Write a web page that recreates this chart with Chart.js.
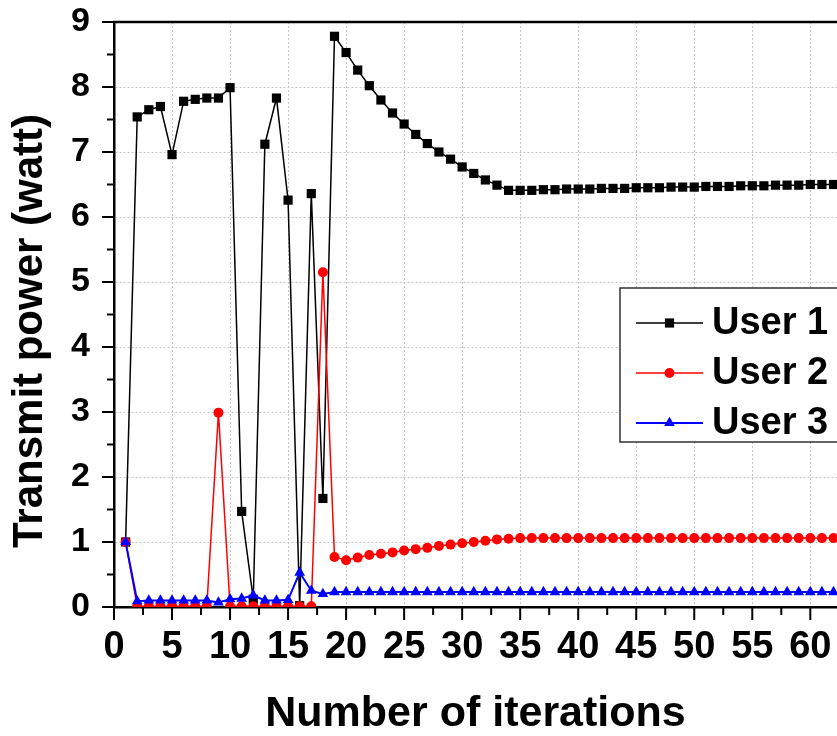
<!DOCTYPE html>
<html>
<head>
<meta charset="utf-8">
<script src="https://cdn.jsdelivr.net/npm/chart.js"></script>
<style>
  html, body { margin: 0; padding: 0; background: #fff; overflow: hidden; }
  #wrap { width: 837px; height: 736px; position: relative; }
  canvas { display: block; }
</style>
</head>
<body>
<div id="wrap"><canvas id="powerChart"></canvas></div>
<script>
// valori
const iterations = [1, 2, 3, 4, 5, 6, 7, 8, 9, 10, 11, 12, 13, 14, 15, 16, 17, 18, 19, 20,
  21, 22, 23, 24, 25, 26, 27, 28, 29, 30, 31, 32, 33, 34, 35, 36, 37, 38, 39, 40,
  41, 42, 43, 44, 45, 46, 47, 48, 49, 50, 51, 52, 53, 54, 55, 56, 57, 58, 59, 60, 61, 62];

const user1 = [1.00, 7.54, 7.65, 7.70, 6.96, 7.78, 7.81, 7.83, 7.83, 7.99,
  1.47, 0.12, 7.12, 7.83, 6.26, 0.02, 6.36, 1.67, 8.78, 8.53,
  8.26, 8.02, 7.80, 7.60, 7.43, 7.27, 7.13, 7.00, 6.89, 6.77,
  6.67, 6.57, 6.49, 6.41, 6.41, 6.41, 6.42, 6.42, 6.43, 6.43,
  6.43, 6.44, 6.44, 6.44, 6.45, 6.45, 6.45, 6.46, 6.46, 6.46,
  6.47, 6.47, 6.47, 6.48, 6.48, 6.48, 6.49, 6.49, 6.49, 6.50, 6.50, 6.50];

const user2 = [1.00, 0.01, 0.01, 0.01, 0.01, 0.01, 0.01, 0.01, 2.99, 0.01,
  0.01, 0.01, 0.01, 0.01, 0.01, 0.01, 0.01, 5.15, 0.77, 0.72,
  0.76, 0.80, 0.82, 0.84, 0.87, 0.89, 0.91, 0.94, 0.96, 0.98,
  1.00, 1.02, 1.04, 1.05, 1.06, 1.06, 1.06, 1.06, 1.06, 1.06,
  1.06, 1.06, 1.06, 1.06, 1.06, 1.06, 1.06, 1.06, 1.06, 1.06,
  1.06, 1.06, 1.06, 1.06, 1.06, 1.06, 1.06, 1.06, 1.06, 1.06, 1.06, 1.06];

const user3 = [1.00, 0.09, 0.10, 0.10, 0.10, 0.10, 0.10, 0.10, 0.07, 0.12,
  0.13, 0.18, 0.10, 0.10, 0.11, 0.53, 0.25, 0.20, 0.23, 0.23,
  0.23, 0.23, 0.23, 0.23, 0.23, 0.23, 0.23, 0.23, 0.23, 0.23,
  0.23, 0.23, 0.23, 0.23, 0.23, 0.23, 0.23, 0.23, 0.23, 0.23,
  0.23, 0.23, 0.23, 0.23, 0.23, 0.23, 0.23, 0.23, 0.23, 0.23,
  0.23, 0.23, 0.23, 0.23, 0.23, 0.23, 0.23, 0.23, 0.23, 0.23, 0.23, 0.23];

const seriesNames = ['User 1', 'User 2', 'User 3'];
const xTicks = [0, 5, 10, 15, 20, 25, 30, 35, 40, 45, 50, 55, 60];
const yTicks = [0, 1, 2, 3, 4, 5, 6, 7, 8, 9];

const FONT = '"Liberation Sans", Arial, sans-serif';

function puncte(vals) {
  return iterations.map((x, i) => ({ x: x, y: vals[i] }));
}

// marker simplu pentru legenda
function marker(ctx, style, r, x, y) {
  ctx.beginPath();
  if (style === 'rect') {
    const s = r * Math.SQRT1_2;
    ctx.rect(x - s, y - s, 2 * s, 2 * s);
  } else if (style === 'triangle') {
    ctx.moveTo(x, y - r);
    ctx.lineTo(x + r * 0.866, y + r * 0.5);
    ctx.lineTo(x - r * 0.866, y + r * 0.5);
    ctx.closePath();
  } else {
    ctx.arc(x, y, r, 0, Math.PI * 2);
  }
  ctx.fill();
}

const decor = {
  id: 'decor',
  afterDraw(chart) {
    const { ctx, chartArea: a, scales } = chart;
    const xs = scales.x, ys = scales.y;
    ctx.save();
    ctx.strokeStyle = '#000';
    ctx.lineWidth = 2;

    // tick-uri pe axa Y (majore + minore)
    yTicks.forEach((v, i) => {
      const py = ys.getPixelForValue(v);
      ctx.beginPath();
      ctx.moveTo(a.left - 12, py);
      ctx.lineTo(a.left, py);
      ctx.stroke();
      if (i < yTicks.length - 1) {
        const pm = ys.getPixelForValue((v + yTicks[i + 1]) / 2);
        ctx.beginPath();
        ctx.moveTo(a.left - 7, pm);
        ctx.lineTo(a.left, pm);
        ctx.stroke();
      }
    });

    // tick-uri pe axa X
    xTicks.forEach((v) => {
      const px = xs.getPixelForValue(v);
      ctx.beginPath();
      ctx.moveTo(px, a.bottom);
      ctx.lineTo(px, a.bottom + 13);
      ctx.stroke();
      const mid = v + 2.5;
      if (mid < xs.max) {
        const pm = xs.getPixelForValue(mid);
        ctx.beginPath();
        ctx.moveTo(pm, a.bottom);
        ctx.lineTo(pm, a.bottom + 8);
        ctx.stroke();
      }
    });

    // linia de sus
    ctx.lineWidth = 2.5;
    ctx.beginPath();
    ctx.moveTo(a.left - 1, a.top);
    ctx.lineTo(a.right, a.top);
    ctx.stroke();

    // titlul axei Y
    ctx.save();
    ctx.translate(30, 331);
    ctx.rotate(-Math.PI / 2);
    ctx.fillStyle = '#000';
    ctx.font = 'bold 42px ' + FONT;
    ctx.textAlign = 'center';
    ctx.textBaseline = 'middle';
    ctx.fillText('Transmit power (watt)', 0, 0);
    ctx.restore();

    // legenda in interiorul graficului
    const bx = 620, by = 288, bh = 154;
    ctx.fillStyle = '#fff';
    ctx.fillRect(bx, by, chart.width - bx + 5, bh);
    ctx.strokeStyle = '#333';
    ctx.lineWidth = 1.5;
    ctx.strokeRect(bx, by, chart.width - bx + 5, bh);

    chart.data.datasets.forEach((ds, i) => {
      const ly = 323 + i * 50;
      ctx.strokeStyle = ds.borderColor;
      ctx.lineWidth = ds.borderWidth;
      ctx.beginPath();
      ctx.moveTo(636, ly);
      ctx.lineTo(703, ly);
      ctx.stroke();
      ctx.fillStyle = ds.pointBackgroundColor;
      marker(ctx, ds.pointStyle, ds.pointRadius, 669.5, ly);
      ctx.fillStyle = '#000';
      ctx.font = 'bold 38px ' + FONT;
      ctx.textAlign = 'left';
      ctx.textBaseline = 'middle';
      ctx.fillText(ds.label, 712, ly + 1);
    });
    ctx.restore();
  }
};

const ctx = document.getElementById('powerChart');
new Chart(ctx.getContext('2d'), {
  type: 'line',
  data: {
    datasets: [{
      label: seriesNames[0],
      data: puncte(user1),
      borderColor: '#000',
      backgroundColor: '#000',
      pointBackgroundColor: '#000',
      pointBorderColor: '#000',
      borderWidth: 1.5,
      pointStyle: 'rect',
      pointRadius: 6.5,
      pointBorderWidth: 0,
      tension: 0,
      clip: 0,
      order: 3
    }, {
      label: seriesNames[1],
      data: puncte(user2),
      borderColor: '#ff0000',
      backgroundColor: '#ff0000',
      pointBackgroundColor: '#ff0000',
      pointBorderColor: '#ff0000',
      borderWidth: 1.5,
      pointStyle: 'circle',
      pointRadius: 5,
      pointBorderWidth: 0,
      tension: 0,
      clip: 0,
      order: 2
    }, {
      label: seriesNames[2],
      data: puncte(user3),
      borderColor: '#0000ff',
      backgroundColor: '#0000ff',
      pointBackgroundColor: '#0000ff',
      pointBorderColor: '#0000ff',
      borderWidth: 2,
      pointStyle: 'triangle',
      pointRadius: 6.2,
      pointBorderWidth: 0,
      tension: 0,
      clip: 0,
      order: 1
    }]
  },
  options: {
    responsive: true,
    maintainAspectRatio: false,
    animation: false,
    layout: { autoPadding: false, padding: { top: 22, right: 0, bottom: 0, left: 0 } },
    plugins: {
      legend: { display: false },
      tooltip: { enabled: false }
    },
    scales: {
      x: {
        type: 'linear',
        min: 0,
        max: 62.3,
        afterBuildTicks: s => { s.ticks = xTicks.map(v => ({ value: v })); },
        afterFit: s => { s.height = 129; s.paddingLeft = 0; s.paddingRight = 0; },
        ticks: {
          color: '#000',
          padding: 18,
          maxRotation: 0,
          autoSkip: false,
          font: { family: FONT, size: 38, weight: 'bold' }
        },
        grid: { color: '#c4c4c4', lineWidth: 1, drawTicks: false },
        border: { display: true, color: '#000', width: 2.5, dash: [2, 2] },
        title: {
          display: true,
          text: 'Number of iterations',
          color: '#000',
          padding: { top: 0, bottom: 0 },
          font: { family: FONT, size: 43, weight: 'bold', lineHeight: 1 }
        }
      },
      y: {
        min: 0,
        max: 9,
        afterBuildTicks: s => { s.ticks = yTicks.map(v => ({ value: v })); },
        afterFit: s => { s.width = 114; s.paddingTop = 0; s.paddingBottom = 0; },
        ticks: {
          color: '#000',
          padding: 24,
          font: { family: FONT, size: 34, weight: 'bold' }
        },
        grid: { color: '#c4c4c4', lineWidth: 1, drawTicks: false },
        border: { display: true, color: '#000', width: 2.5, dash: [2, 2] }
      }
    }
  },
  plugins: [decor]
});
</script>
</body>
</html>
